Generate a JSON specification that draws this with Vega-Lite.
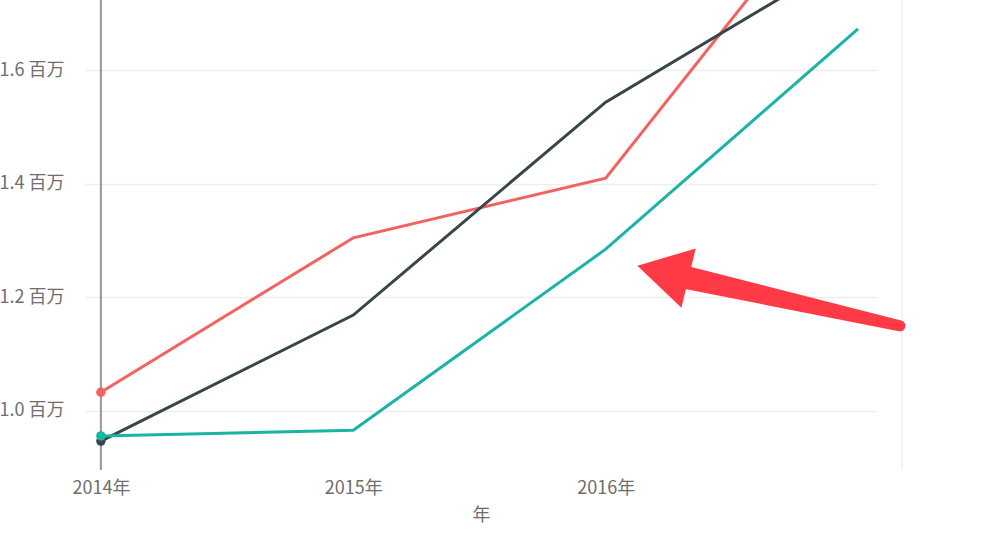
{
  "$schema": "https://vega.github.io/schema/vega-lite/v6.json",
  "autosize": "none",
  "width": 792,
  "height": 470,
  "padding": {"left": 85, "top": 0, "right": 127, "bottom": 66},
  "background": "white",
  "datasets": {
    "sales": [
      {"year": 2014, "series": "red", "value": 1.033},
      {"year": 2015, "series": "red", "value": 1.305},
      {"year": 2016, "series": "red", "value": 1.410},
      {"year": 2017, "series": "red", "value": 1.971},
      {"year": 2014, "series": "dark", "value": 0.947},
      {"year": 2015, "series": "dark", "value": 1.169},
      {"year": 2016, "series": "dark", "value": 1.544},
      {"year": 2017, "series": "dark", "value": 1.809},
      {"year": 2014, "series": "teal", "value": 0.956},
      {"year": 2015, "series": "teal", "value": 0.966},
      {"year": 2016, "series": "teal", "value": 1.285},
      {"year": 2017, "series": "teal", "value": 1.673}
    ],
    "shaft": [
      {"year": 2017.166, "value": 1.150, "end": "tail"},
      {"year": 2016.24, "value": 1.243, "end": "head"}
    ],
    "head": [{"year": 2016.227, "value": 1.245}],
    "hover": [{"year": 2014}],
    "border": [{"year": 2017.174}]
  },
  "layer": [
    {
      "data": {"name": "border"},
      "mark": {"type": "rule", "color": "#F0F0F0", "strokeWidth": 1.5},
      "encoding": {"x": {"field": "year", "type": "quantitative"}}
    },
    {
      "data": {"name": "hover"},
      "mark": {"type": "rule", "color": "#9E9E9E", "strokeWidth": 2.2},
      "encoding": {"x": {"field": "year", "type": "quantitative"}}
    },
    {
      "data": {"name": "sales"},
      "mark": {"type": "line", "strokeWidth": 3, "clip": true},
      "encoding": {
        "x": {
          "field": "year",
          "type": "quantitative",
          "scale": {"domain": [2013.937, 2017.075], "nice": false, "zero": false},
          "axis": {
            "values": [2014, 2015, 2016],
            "labelExpr": "datum.value + '年'",
            "grid": false,
            "domain": false,
            "ticks": false,
            "labelPadding": 9,
            "titlePadding": 9
          },
          "title": "年"
        },
        "y": {
          "field": "value",
          "type": "quantitative",
          "scale": {"domain": [0.896, 1.724], "nice": false, "zero": false},
          "axis": {
            "values": [1.0, 1.2, 1.4, 1.6],
            "labelExpr": "format(datum.value, '.1f') + ' 百万'",
            "domain": false,
            "ticks": false,
            "labelPadding": 21,
            "gridColor": "#EEEEEE",
            "gridWidth": 1.5
          },
          "title": null
        },
        "color": {
          "field": "series",
          "type": "nominal",
          "scale": {"domain": ["red", "dark", "teal"], "range": ["#F2625F", "#374649", "#1AB3A6"]},
          "legend": null
        }
      }
    },
    {
      "data": {"name": "sales"},
      "transform": [{"filter": "datum.year == 2014"}],
      "mark": {"type": "point", "filled": true, "opacity": 1, "size": 90},
      "encoding": {
        "x": {"field": "year", "type": "quantitative"},
        "y": {"field": "value", "type": "quantitative"},
        "color": {"field": "series", "type": "nominal", "legend": null}
      }
    },
    {
      "data": {"name": "shaft"},
      "mark": {"type": "trail", "color": "#FF3A47"},
      "encoding": {
        "x": {"field": "year", "type": "quantitative"},
        "y": {"field": "value", "type": "quantitative"},
        "size": {
          "field": "end",
          "type": "nominal",
          "scale": {"domain": ["tail", "head"], "range": [11, 24]},
          "legend": null
        }
      }
    },
    {
      "data": {"name": "head"},
      "mark": {"type": "point", "shape": "triangle-left", "angle": 13.6, "size": 3700, "filled": true, "opacity": 1, "color": "#FF3A47"},
      "encoding": {
        "x": {"field": "year", "type": "quantitative"},
        "y": {"field": "value", "type": "quantitative"}
      }
    }
  ],
  "config": {
    "view": {"stroke": null},
    "font": "Noto Sans CJK SC",
    "axis": {
      "labelFont": "Noto Sans CJK SC",
      "labelFontSize": 18,
      "labelColor": "#6E6E6E",
      "titleFont": "Noto Sans CJK SC",
      "titleFontSize": 18,
      "titleFontWeight": "normal",
      "titleColor": "#6E6E6E"
    }
  }
}
